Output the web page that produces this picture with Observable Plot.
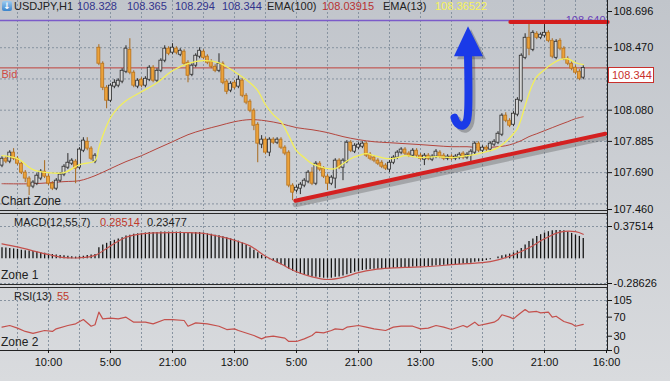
<!DOCTYPE html>
<html><head><meta charset="utf-8">
<script src="https://cdn.jsdelivr.net/npm/d3@7"></script>
<script src="https://cdn.jsdelivr.net/npm/@observablehq/plot@0.6"></script>
<style>
html,body{margin:0;padding:0;}
body{width:670px;height:381px;overflow:hidden;font-family:"Liberation Sans",Arial,sans-serif;}
#wrap{position:relative;width:670px;height:381px;background:linear-gradient(#c1c5cb,#d9dbde);}
.panel{position:absolute;left:0;}
.lbl{position:absolute;font-size:11px;white-space:nowrap;line-height:12px;color:#1a1a1a;}
.sep{position:absolute;left:0;width:607px;height:1px;background:#2a2a2a;}
</style></head><body><div id="wrap"></div>
<script>
// ---------- DATA ----------
const symbol = "USDJPY,H1";
const headerOHLC = [108.328, 108.365, 108.294, 108.344];
const ema100Last = 108.03915, ema13Last = 108.36522;
const macdLabel = "MACD(12,55,7)", macdSigLast = 0.28514, macdLast = 0.23477;
const rsiLabel = "RSI(13)", rsiLast = 55;
const bidPrice = 108.344;
const purpleLevel = 108.640;
const firstBar = -4; // bar index of first candle (hourly bars)

const opens = [107.734,107.777,107.759,107.815,107.777,
107.746,107.690,107.653,107.603,107.621,107.653,107.696,107.665,107.621,107.590,
107.640,107.678,107.721,107.746,107.759,107.721,107.827,107.883,107.840,107.759,
108.470,108.370,108.220,108.139,108.227,108.233,108.258,108.320,108.457,108.314,
108.227,108.270,108.233,108.270,108.345,108.264,108.326,108.389,108.464,108.439,
108.464,108.426,108.445,108.376,108.301,108.358,108.414,108.445,108.414,108.382,
108.351,108.326,108.370,108.258,108.202,108.251,108.227,108.264,108.170,108.133,
108.077,107.989,107.865,107.896,107.815,107.896,107.877,107.896,107.846,107.815,
107.609,107.578,107.590,107.609,107.634,107.690,107.621,107.746,107.715,107.665,
107.621,107.653,107.765,107.721,107.759,107.877,107.821,107.846,107.852,107.871,
107.802,107.784,107.765,107.752,107.734,107.709,107.752,107.784,107.815,107.834,
107.809,107.796,107.827,107.796,107.771,107.796,107.771,107.790,107.815,107.796,
107.777,107.790,107.777,107.784,107.809,107.784,107.796,107.815,107.871,107.827,
107.846,107.834,107.865,107.877,107.927,108.046,108.014,107.989,108.052,108.139,
108.407,108.532,108.457,108.557,108.532,108.545,108.563,108.513,108.407,108.513,
108.464,108.401,108.370,108.345,108.320,108.283];
const highs = [107.790,107.790,107.827,107.840,107.790,
107.759,107.703,107.665,107.640,107.684,107.709,107.765,107.678,107.634,107.653,
107.690,107.740,107.809,107.777,107.771,107.846,107.908,107.908,107.852,107.809,
108.489,108.382,108.233,108.245,108.270,108.276,108.339,108.482,108.526,108.326,
108.276,108.283,108.289,108.358,108.358,108.339,108.401,108.482,108.476,108.495,
108.476,108.464,108.457,108.389,108.370,108.432,108.470,108.457,108.426,108.395,
108.364,108.432,108.382,108.270,108.258,108.264,108.295,108.276,108.183,108.145,
108.089,108.002,107.921,107.908,107.908,107.908,107.908,107.908,107.858,107.827,
107.621,107.609,107.628,107.653,107.703,107.721,107.759,107.759,107.727,107.678,
107.671,107.777,107.777,107.777,107.890,107.890,107.871,107.877,107.883,107.883,
107.815,107.796,107.777,107.765,107.746,107.765,107.796,107.827,107.846,107.846,
107.821,107.840,107.840,107.809,107.809,107.809,107.802,107.834,107.827,107.809,
107.802,107.802,107.802,107.815,107.821,107.815,107.834,107.883,107.883,107.858,
107.858,107.883,107.896,107.946,108.058,108.064,108.027,108.071,108.158,108.432,
108.557,108.626,108.576,108.570,108.563,108.620,108.576,108.526,108.520,108.526,
108.476,108.414,108.382,108.358,108.333,108.358];
const lows = [107.721,107.746,107.746,107.765,107.734,
107.678,107.628,107.547,107.590,107.609,107.640,107.653,107.609,107.578,107.578,
107.628,107.665,107.709,107.734,107.621,107.709,107.815,107.827,107.765,107.746,
108.358,108.202,108.089,108.127,108.214,108.220,108.245,108.308,108.301,108.220,
108.214,108.220,108.220,108.258,108.251,108.251,108.314,108.376,108.420,108.426,
108.426,108.414,108.358,108.251,108.289,108.345,108.401,108.395,108.364,108.339,
108.314,108.314,108.239,108.177,108.189,108.208,108.214,108.158,108.114,108.064,
107.952,107.752,107.840,107.802,107.790,107.865,107.865,107.834,107.796,107.596,
107.515,107.565,107.553,107.596,107.621,107.609,107.609,107.696,107.653,107.578,
107.609,107.590,107.709,107.640,107.746,107.815,107.809,107.834,107.840,107.784,
107.765,107.752,107.734,107.715,107.703,107.690,107.740,107.771,107.802,107.796,
107.784,107.784,107.784,107.765,107.734,107.765,107.759,107.777,107.777,107.765,
107.765,107.765,107.765,107.771,107.771,107.771,107.759,107.802,107.815,107.815,
107.821,107.821,107.852,107.865,107.915,108.002,107.971,107.977,108.039,108.127,
108.395,108.420,108.445,108.520,108.520,108.532,108.501,108.401,108.395,108.451,
108.389,108.358,108.326,108.301,108.264,108.270];
const closes = [107.777,107.759,107.815,107.777,107.746,
107.690,107.653,107.603,107.628,107.671,107.696,107.665,107.621,107.590,107.640,
107.678,107.727,107.752,107.765,107.715,107.834,107.890,107.840,107.777,107.796,
108.370,108.220,108.139,108.233,108.251,108.264,108.326,108.464,108.314,108.233,
108.264,108.233,108.276,108.345,108.264,108.326,108.389,108.464,108.432,108.470,
108.439,108.451,108.370,108.295,108.358,108.420,108.451,108.407,108.376,108.351,
108.326,108.370,108.251,108.195,108.245,108.220,108.270,108.170,108.127,108.077,
107.983,107.871,107.896,107.815,107.896,107.877,107.896,107.846,107.809,107.609,
107.565,107.596,107.615,107.640,107.690,107.621,107.746,107.709,107.665,107.621,
107.659,107.765,107.721,107.765,107.877,107.827,107.858,107.865,107.871,107.796,
107.777,107.765,107.746,107.727,107.715,107.752,107.784,107.815,107.834,107.809,
107.796,107.827,107.796,107.777,107.796,107.777,107.790,107.821,107.790,107.777,
107.790,107.777,107.790,107.802,107.784,107.802,107.821,107.871,107.827,107.846,
107.834,107.871,107.883,107.933,108.046,108.014,107.983,108.058,108.145,108.420,
108.532,108.464,108.563,108.532,108.551,108.563,108.513,108.414,108.507,108.464,
108.401,108.370,108.339,108.314,108.276,108.344];

const ema13T = [-4,0,4,8,12,16,20,21,22,24,26,28,32,36,40,44,48,52,56,60,62,64,66,68,70,72,74,76,78,80,82,84,86,88,90,92,94,96,98,100,104,108,112,116,118,120,122,124,126,128,129,130,131,132,133,134,136,138,140,142,144,146];
const ema13 = [107.796,107.777,107.709,107.690,107.690,107.740,107.765,107.846,107.921,108.033,108.096,108.139,108.195,108.251,108.326,108.370,108.389,108.376,108.320,108.251,108.202,108.114,108.052,108.008,107.921,107.827,107.784,107.746,107.728,107.715,107.715,107.746,107.777,107.796,107.809,107.796,107.784,107.777,107.784,107.796,107.784,107.790,107.784,107.796,107.802,107.815,107.827,107.846,107.883,107.933,107.965,108.027,108.108,108.183,108.245,108.289,108.333,108.370,108.395,108.401,108.376,108.365];
const ema100T = [-4,4,12,16,20,24,28,32,36,40,44,48,52,56,60,64,68,72,76,80,84,88,92,96,100,104,108,112,116,120,124,126,128,130,132,134,136,138,140,142,144,146];
const ema100 = [107.621,107.621,107.634,107.640,107.671,107.715,107.759,107.796,107.840,107.883,107.927,107.958,107.983,108.008,108.021,108.014,107.996,107.971,107.958,107.940,107.915,107.896,107.883,107.877,107.871,107.865,107.858,107.852,107.852,107.846,107.852,107.858,107.871,107.890,107.915,107.933,107.952,107.971,107.990,108.008,108.027,108.039];

const macdHist = [0.13,0.125,0.12,0.115,0.11,
0.10,0.095,0.09,0.085,0.08,0.07,0.065,0.055,0.05,0.045,
0.04,0.035,0.03,0.025,0.02,0.025,0.03,0.04,0.045,0.05,
0.13,0.16,0.18,0.20,0.215,0.23,0.245,0.265,0.275,0.285,
0.29,0.295,0.30,0.305,0.305,0.305,0.31,0.31,0.31,0.31,
0.31,0.31,0.305,0.30,0.30,0.305,0.305,0.30,0.29,0.285,
0.275,0.267,0.255,0.245,0.232,0.22,0.205,0.185,0.16,0.13,
0.10,0.07,0.04,0.015,-0.01,-0.03,-0.05,-0.07,-0.09,-0.12,
-0.145,-0.165,-0.18,-0.19,-0.20,-0.21,-0.215,-0.22,-0.225,-0.225,
-0.225,-0.215,-0.21,-0.20,-0.185,-0.17,-0.155,-0.145,-0.135,-0.13,
-0.125,-0.12,-0.12,-0.12,-0.12,-0.115,-0.11,-0.105,-0.10,-0.10,
-0.10,-0.095,-0.095,-0.09,-0.09,-0.09,-0.085,-0.08,-0.08,-0.075,
-0.075,-0.07,-0.07,-0.065,-0.06,-0.055,-0.05,-0.04,-0.035,-0.03,
-0.02,-0.01,0.0,0.02,0.035,0.045,0.055,0.07,0.09,0.12,
0.16,0.20,0.23,0.26,0.28,0.30,0.315,0.325,0.33,0.33,
0.325,0.31,0.295,0.275,0.26,0.235];
const sigT = [-4,0,4,8,12,16,20,24,28,32,36,40,44,48,52,56,60,64,68,72,76,80,84,88,92,96,100,104,108,112,116,120,124,128,132,136,140,144,146];
const sigV = [0.174,0.139,0.093,0.05,0.015,0.012,0.04,0.15,0.25,0.29,0.302,0.305,0.305,0.295,0.26,0.215,0.15,0.03,-0.06,-0.15,-0.21,-0.24,-0.215,-0.16,-0.125,-0.108,-0.1,-0.093,-0.083,-0.068,-0.055,-0.045,-0.012,0.046,0.128,0.232,0.31,0.315,0.285];

const rsiT = [-4,-2,0,2,4,7,9,10,13,15,17,19,20,21,22,24,26,28,30,33,35,38,40,43,44,46,49,52,54,56,57,61,63,64,66,69,70,72,74,76,77,79,81,82,84,85,88,90,92,95,97,99,102,104,106,108,110,112,115,116,118,119,121,123,124,125,127,128,129,131,132,134,135,137,138,139,141,143,144,146];
const rsiV = [49,52.5,47,40,36,42,40,45.5,52.5,56,65,51,54,80.5,66.5,68,66.5,70,59.5,59.5,56,65,65,63,51,58,56,51,44,45.5,42,31.5,24.5,28,30,26,19,19,24.5,31.5,38.5,37,42,45.5,44,49,52.5,49,45.5,42,49,51,51,45.5,47,52.5,49,44,52.5,49,59.5,52.5,56,59.5,64.5,75,70,66.5,73.5,86,80.5,82,79,80.5,70,72,61,56,51,55];

// annotations (bar index, price)
const supportT = [71.7, 151.7], supportP = [107.515, 107.933];
const resistT = [127.2, 152.3], resistP = [108.630, 108.630];
const arrowShaftT = [116.26, 116.26, 115.87, 114.84, 113.55, 112.77];
const arrowShaftP = [108.420, 108.064, 108.008, 107.983, 107.996, 108.033];
const arrowHeadT = [112.77, 116.39, 120.26];
const arrowHeadTop = [108.414, 108.601, 108.414];
const arrowHeadBase = 108.414;

const mainTicks = [108.696, 108.470, 108.080, 107.885, 107.690, 107.460];
const priceGrid = [108.470, 108.275, 108.080, 107.885, 107.690, 107.495];
const macdTicks = [0.37514, -0.28626];
const rsiTicks = [105, 70, 30, 0];
const gridBars = d3.range(0, 153, 8);
const labelBars = [8, 24, 40, 56, 72, 88, 104, 120, 136, 152];
const timeLabels = ["10:00","5:00","21:00","13:00","5:00","21:00","13:00","5:00","21:00","16:00"];

// ---------- BUILD ----------
const xDomain = [-4.387, 152.258];
const candles = closes.map((c, i) => ({t: i + firstBar, open: opens[i], high: highs[i], low: lows[i], close: c, up: c >= opens[i]}));
const zip = (a, b) => a.map((v, i) => ({t: v, v: b[i]}));
const gridStyle = {stroke: "#8793a0", strokeDasharray: "2,2", strokeWidth: 1};
const baseStyle = {background: "transparent", overflow: "visible", fontFamily: "Liberation Sans, Arial, sans-serif", fontSize: "11px", color: "#111"};
const wrap = document.getElementById("wrap");

const main = Plot.plot({
  width: 670, height: 211, marginTop: 11, marginBottom: 2, marginLeft: 0, marginRight: 63,
  x: {domain: xDomain, axis: null},
  y: {domain: [107.460, 108.696], axis: null},
  style: baseStyle,
  marks: [
    Plot.ruleX(gridBars, {...gridStyle, insetTop: -11}),
    Plot.ruleY(priceGrid, gridStyle),
    Plot.ruleY([bidPrice], {stroke: "#c0403a", strokeWidth: 1}),
    Plot.text([bidPrice], {y: d => d, frameAnchor: "left", dx: 1, dy: 7, text: () => "Bid", fill: "#cf4a45", textAnchor: "start", fontSize: 11}),
    Plot.line(zip(ema100T, ema100), {x: "t", y: "v", stroke: "#b4463e", strokeWidth: 1, curve: "catmull-rom"}),
    Plot.ruleX(candles, {x: "t", y1: "low", y2: "high", stroke: d => d.up ? "#2b2b2b" : "#a8691c", strokeWidth: 1}),
    Plot.rect(candles, {x1: d => d.t - 0.38, x2: d => d.t + 0.38, y1: "open", y2: "close",
      fill: d => d.up ? "#d6d6d6" : "#eba23a", stroke: d => d.up ? "#2b2b2b" : "#b8731e", strokeWidth: 0.8}),
    Plot.line(zip(ema13T, ema13), {x: "t", y: "v", stroke: "#f3ef5a", strokeWidth: 1.3, curve: "catmull-rom"}),
    Plot.ruleY([purpleLevel], {stroke: "#7b5bc9", strokeWidth: 1.5}),
    Plot.text([purpleLevel], {y: d => d, frameAnchor: "right", dx: -2, dy: 0, text: d => d.toFixed(3), fill: "#6a3fb8", textAnchor: "end", fontSize: 11}),
    Plot.line(zip(resistT, resistP), {x: "t", y: "v", stroke: "#d41c1c", strokeWidth: 4}),
    Plot.line(zip(supportT, supportP), {x: "t", y: "v", stroke: "#444", strokeOpacity: 0.3, strokeWidth: 5, dy: 4}),
    Plot.line(zip(supportT, supportP), {x: "t", y: "v", stroke: "#d42020", strokeWidth: 4}),
    // arrow shadow
    Plot.line(zip(arrowShaftT, arrowShaftP), {x: "t", y: "v", stroke: "#333", strokeOpacity: 0.3, strokeWidth: 8, strokeLinecap: "round", curve: "catmull-rom", dx: 3, dy: 3}),
    Plot.areaY(zip(arrowHeadT, arrowHeadTop), {x: "t", y1: arrowHeadBase, y2: "v", fill: "#333", fillOpacity: 0.3, dx: 3, dy: 3}),
    // arrow
    Plot.line(zip(arrowShaftT, arrowShaftP), {x: "t", y: "v", stroke: "#1a3ae8", strokeWidth: 8, strokeLinecap: "round", curve: "catmull-rom"}),
    Plot.areaY(zip(arrowHeadT, arrowHeadTop), {x: "t", y1: arrowHeadBase, y2: "v", fill: "#1a3ae8"}),
    Plot.axisY({anchor: "right", label: null, ticks: mainTicks, tickFormat: d => d.toFixed(3), tickSize: 4, tickPadding: 2, fontSize: 11})
  ]
});
main.classList.add("panel"); main.style.top = "0px";
wrap.appendChild(main);

const macd = Plot.plot({
  width: 670, height: 73, marginTop: 15, marginBottom: 1, marginLeft: 0, marginRight: 63,
  x: {domain: xDomain, axis: null},
  y: {domain: [-0.28626, 0.37514], axis: null},
  style: baseStyle,
  marks: [
    Plot.ruleX(gridBars, {...gridStyle, insetTop: -12}),
    Plot.ruleY(macdTicks, gridStyle),
    Plot.ruleX(macdHist.map((v, i) => ({t: i + firstBar, v})), {x: "t", y1: 0, y2: "v", stroke: "#151515", strokeWidth: 1.3}),
    Plot.line(zip(sigT, sigV), {x: "t", y: "v", stroke: "#c4504c", strokeWidth: 1.2, curve: "catmull-rom"}),
    Plot.axisY({anchor: "right", label: null, ticks: macdTicks, tickFormat: d => d.toFixed(5), tickSize: 4, tickPadding: 2, fontSize: 11})
  ]
});
macd.classList.add("panel"); macd.style.top = "211px";
wrap.appendChild(macd);

const rsi = Plot.plot({
  width: 670, height: 97, marginTop: 16, marginBottom: 31, marginLeft: 0, marginRight: 63,
  x: {domain: xDomain, axis: null},
  y: {domain: [0, 105], axis: null},
  style: baseStyle,
  marks: [
    Plot.ruleX(gridBars, {...gridStyle, insetTop: -12}),
    Plot.ruleY([105], gridStyle),
    Plot.ruleY([0], {stroke: "#222", strokeWidth: 1}),
    Plot.line(zip(rsiT, rsiV), {x: "t", y: "v", stroke: "#c4504c", strokeWidth: 1.2}),
    Plot.axisY({anchor: "right", label: null, ticks: rsiTicks, tickFormat: d => String(d), tickSize: 4, tickPadding: 2, fontSize: 11}),
    Plot.axisX({anchor: "bottom", label: null, ticks: labelBars, tickFormat: d => timeLabels[labelBars.indexOf(d)], tickSize: 3, tickPadding: 5, fontSize: 11})
  ]
});
rsi.classList.add("panel"); rsi.style.top = "284px";
wrap.appendChild(rsi);

// ---------- FRAME & LABELS ----------
function div(cls, css, text) {
  const d = document.createElement("div");
  d.className = cls; d.style.cssText = css;
  if (text !== undefined) d.textContent = text;
  wrap.appendChild(d); return d;
}
div("sep", "top:210px;"); div("sep", "top:213px;");
div("sep", "top:284px;"); div("sep", "top:287px;");
div("", "position:absolute;left:607px;top:0;width:1px;height:351px;background:#222;");

// header
div("", "position:absolute;left:2px;top:1px;width:10px;height:10px;border-radius:2px;background:linear-gradient(#9ccbf0,#3b84cc);color:#fff;font:bold 9px 'DejaVu Sans';line-height:10px;text-align:center;", "↓");
div("lbl", "left:14px;top:0px;color:#222;", symbol);
const hx = [77, 127, 175, 222];
headerOHLC.forEach((v, i) => div("lbl", `left:${hx[i]}px;top:0px;color:#33348c;`, v.toFixed(3)));
div("lbl", "left:267px;top:0px;color:#222;", "EMA(100)");
div("lbl", "left:322px;top:0px;color:#b83232;", ema100Last.toFixed(5));
div("lbl", "left:383px;top:0px;color:#222;", "EMA(13)");
div("lbl", "left:435px;top:0px;color:#f6f35a;", ema13Last.toFixed(5));

// bid box on axis
const by = main.scale("y").apply(bidPrice);
div("lbl", `left:608px;top:${by}px;width:41px;height:14px;line-height:14px;padding-left:3px;background:#fff;border:1px solid #c9302c;color:#c9302c;`, bidPrice.toFixed(3));

div("lbl", "left:1px;top:195px;color:#222;font-size:12px;", "Chart Zone");
div("lbl", "left:14px;top:216px;color:#222;", macdLabel);
div("lbl", "left:100px;top:216px;color:#c0392b;", macdSigLast.toFixed(5));
div("lbl", "left:147px;top:216px;color:#222;", macdLast.toFixed(5));
div("lbl", "left:1px;top:269px;color:#222;font-size:12px;", "Zone 1");
div("lbl", "left:14px;top:290px;color:#222;", rsiLabel);
div("lbl", "left:57px;top:290px;color:#c0392b;", String(rsiLast));
div("lbl", "left:1px;top:336px;color:#222;font-size:12px;", "Zone 2");
</script></body></html>
